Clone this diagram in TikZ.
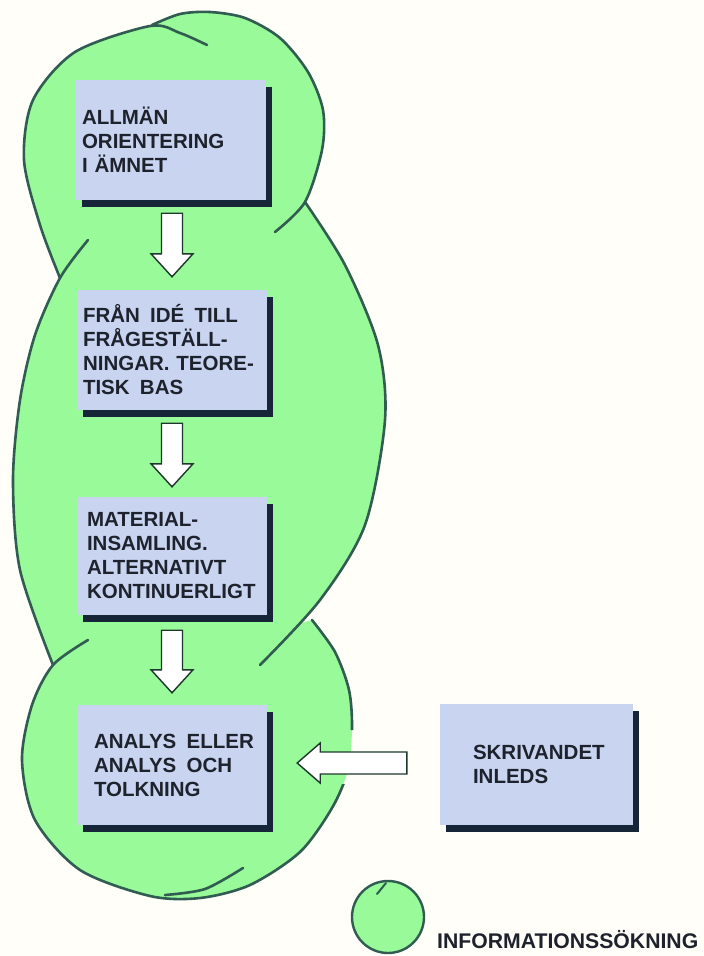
\documentclass[tikz,border=0pt]{standalone}
\usepackage{fontspec}
\setmainfont{Liberation Sans}
\usetikzlibrary{calc,shadows}
\definecolor{bgcol}{RGB}{255,254,249}
\definecolor{blobfill}{RGB}{152,250,152}
\definecolor{blobline}{RGB}{48,92,82}
\definecolor{boxfill}{RGB}{200,212,240}
\definecolor{shadowcol}{RGB}{22,38,56}
\definecolor{txtcol}{RGB}{30,34,44}
\definecolor{arrline}{RGB}{30,55,45}
\newcommand{\wsp}{\hspace{0.5em}}
\newcommand{\blkdown}[2]{\draw[blk] let \p1=#1, \p2=#2 in
  (\x1-10.5pt,\y1) -- (\x1+10.5pt,\y1) -- (\x1+10.5pt,\y2+23pt) -- (\x1+21pt,\y2+23pt)
  -- (\x1,\y2) -- (\x1-21pt,\y2+23pt) -- (\x1-10.5pt,\y2+23pt) -- cycle;}
\newcommand{\blkleft}[2]{\draw[blk] let \p1=#1, \p2=#2 in
  (\x1,\y1-11pt) -- (\x1,\y1+11pt) -- (\x2+23pt,\y1+11pt) -- (\x2+23pt,\y1+20pt)
  -- (\x2,\y1) -- (\x2+23pt,\y1-20pt) -- (\x2+23pt,\y1-11pt) -- cycle;}
\begin{document}
\begin{tikzpicture}[x=1pt,y=-1pt,
  bl/.style={draw=blobline, line width=2.6pt, line cap=round, line join=round},
  box/.style={fill=boxfill, draw=none,
    general shadow={fill=shadowcol, shadow xshift=6pt, shadow yshift=-7pt},
    font=\fontsize{20.5}{24}\selectfont\bfseries, text=txtcol, align=left,
    minimum height=120pt, inner ysep=0pt},
  blk/.style={fill=white, draw=arrline, line width=1.4pt, line join=miter}]
\useasboundingbox (0,0) rectangle (704,956);
\fill[bgcol] (0,0) rectangle (704,956);

% ---- blob fills ----
\fill[blobfill] plot[smooth] coordinates {(60,278) (40,225) (24,160) (33,100) (75,52) (152,25)}
  -- plot[smooth] coordinates {(152,25) (180,14) (210,12) (245,18) (280,38) (308,72) (323,110) (322,150) (305,202) (275,232)}
  -- (200,262) -- cycle;
\fill[blobfill] plot[smooth] coordinates {(88,240) (60,278) (35,335) (20,400) (13,480) (20,570) (53,665)}
  -- (150,690)
  -- plot[smooth] coordinates {(260,665) (320,600) (365,525) (385,420) (378,345) (345,265) (305,202)}
  -- (200,215) -- cycle;
\fill[blobfill] plot[smooth] coordinates {(88,640) (53,665) (32,705) (22,760) (35,820) (80,870) (150,896) (200,898) (250,885) (300,852) (332,808) (348,770) (352,728) (349,690) (335,652) (312,620)}
  -- (200,650) -- cycle;

% ---- blob outlines ----
\draw[bl] plot[smooth] coordinates {(60,278) (40,225) (24,160) (33,100) (75,52) (150,26) (180,33) (207,45)};
\draw[bl] plot[smooth] coordinates {(152,25) (180,14) (210,12) (245,18) (280,38) (308,72) (323,110) (322,150) (305,202) (275,232)};
\draw[bl] plot[smooth] coordinates {(88,240) (60,278) (35,335) (20,400) (13,480) (20,570) (53,665)};
\draw[bl] plot[smooth] coordinates {(305,202) (345,265) (378,345) (385,420) (365,525) (320,600) (260,665)};
\begin{scope}
  \clip (0,0) rectangle (704,730) (0,784) rectangle (704,956) (0,729) rectangle (320,785);
  \draw[bl] plot[smooth] coordinates {(88,640) (53,665) (32,705) (22,760) (35,820) (80,870) (150,896) (200,898) (250,885) (300,852) (332,808) (348,770) (352,728) (349,690) (335,652) (312,620)};
\end{scope}
\draw[bl] plot[smooth] coordinates {(165,895) (205,889) (243,868)};

% ---- boxes ----
\node[box, inner xsep=6pt, text width=178pt] (b1) at (171,140) {ALLMÄN\\ORIENTERING\\I ÄMNET};
\node[box, inner xsep=6pt, text width=178pt] (b2) at (172,350) {\mbox{FRÅN\wsp IDÉ\wsp TILL}\\FRÅGESTÄLL-\\\mbox{NINGAR. TEORE-}\\\mbox{TISK\wsp BAS}};
\node[box, inner xsep=10pt, text width=170pt, minimum height=118pt] (b3) at (172,556) {MATERIAL-\\INSAMLING.\\ALTERNATIVT\\KONTINUERLIGT};
\node[box, inner xsep=17pt, text width=156pt] (b4) at (172,765) {\mbox{ANALYS\wsp ELLER}\\\mbox{ANALYS\wsp OCH}\\TOLKNING};
\node[box, inner xsep=33pt, text width=127pt, minimum height=121pt] (b5) at (536.5,764.5) {SKRIVANDET\\INLEDS};

% ---- block arrows ----
\blkdown{($(b1.south)+(1,13)$)}{($(b2.north)+(0,-13)$)}
\blkdown{($(b2.south)+(0,13)$)}{($(b3.north)+(0,-10)$)}
\blkdown{($(b3.south)+(0,15)$)}{($(b4.north)+(0,-12)$)}
\blkleft{($(b5.west)+(-33,-1.5)$)}{($(b4.east)+(30,0)$)}

% ---- legend ----
\node[circle, fill=blobfill, draw=blobline, line width=2.4pt, minimum size=72pt, inner sep=0pt] (icon) at (388,917) {};
\draw[bl, line width=2pt] (377,894) -- (386,883);
\node[anchor=west, inner sep=0pt, font=\fontsize{21.2}{24}\selectfont\bfseries, text=txtcol] (legend) at (437,940) {INFORMATIONSSÖKNING};
\end{tikzpicture}
\end{document}
